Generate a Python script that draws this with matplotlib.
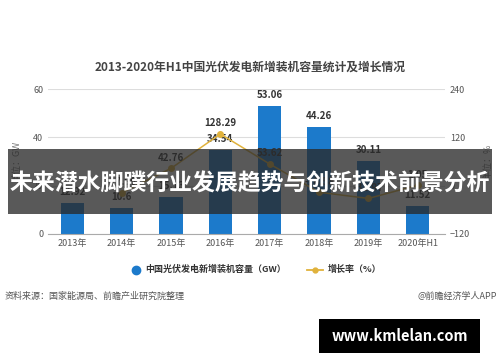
import numpy as np
import matplotlib.pyplot as plt
from matplotlib.patches import Rectangle

plt.rcParams['font.family'] = ['Noto Sans CJK SC', 'DejaVu Sans']

years = ['2013年', '2014年', '2015年', '2016年', '2017年', '2018年', '2019年', '2020年H1']
capacity = [12.92, 10.6, 15.13, 34.54, 53.06, 44.26, 30.11, 11.52]
growth_years = years[1:]
growth = [-17.96, 42.76, 128.29, 53.62, -16.58, -31.97, 1.05]

bar_color = '#1c7acb'
line_color = '#e0b23c'
txt = '#333333'

fig = plt.figure(figsize=(5, 3.62), dpi=100)
ax = fig.add_axes([0.096, 0.354, 0.794, 0.4])
x = np.arange(len(years))
ax.bar(x, capacity, width=0.47, color=bar_color, zorder=2)
for xi, v in zip(x, capacity):
    ax.text(xi, v + 2.5, f'{v:g}', ha='center', va='bottom',
            fontsize=7, fontweight='bold', color=txt, zorder=4)
ax.set_ylim(0, 60)
ax.set_xlim(-0.49, 7.55)
ax.set_yticks([0, 20, 40, 60])
ax.set_xticks(x)
ax.set_xticklabels(years, fontsize=6.5, color='#555555')
ax.tick_params(axis='y', labelsize=6.5, colors='#555555', length=0)
ax.tick_params(axis='x', length=0)
ax.grid(axis='y', color='#dddddd', linewidth=0.8, zorder=0)
for s in ['top', 'right', 'left']:
    ax.spines[s].set_visible(False)
ax.spines['bottom'].set_color('#aaaaaa')
ax.set_ylabel('单位：GW', fontsize=6.5, color='#777777', labelpad=8)

ax2 = ax.twinx()
gx = np.arange(1, len(years))
ax2.plot(gx, growth, color=line_color, linewidth=1.1, marker='o', markersize=4, zorder=3)
for xi, v in zip(gx, growth):
    ax2.text(xi, v + 14, f'{v:.2f}', ha='center', va='bottom',
             fontsize=7, fontweight='bold', color=txt, zorder=4)
ax2.set_ylim(-120, 240)
ax2.set_yticks([-120, 0, 120, 240])
ax2.tick_params(axis='y', labelsize=6.5, colors='#555555', length=0)
for s in ax2.spines.values():
    s.set_visible(False)
ax2.set_ylabel('单位：%', fontsize=6.5, color='#777777', labelpad=10)

fig.text(0.5, 0.815, '2013-2020年H1中国光伏发电新增装机容量统计及增长情况',
         ha='center', va='center', fontsize=8.5, fontweight='bold', color='#444444')

# legend
fig.lines.append(plt.Line2D([0.272], [0.255], transform=fig.transFigure, marker='o',
                            markersize=6, color=bar_color, linestyle='none'))
fig.text(0.29, 0.255, '中国光伏发电新增装机容量（GW）', fontsize=6.5, color='#333333',
         va='center', fontweight='bold')
fig.lines.append(plt.Line2D([0.613, 0.645], [0.255, 0.255], transform=fig.transFigure,
                            color=line_color, linewidth=1.3))
fig.lines.append(plt.Line2D([0.629], [0.255], transform=fig.transFigure, marker='o',
                            markersize=3.5, color=line_color))
fig.text(0.655, 0.255, '增长率（%）', fontsize=6.5, color='#333333', va='center',
         fontweight='bold')

fig.text(0.01, 0.182, '资料来源：国家能源局、前瞻产业研究院整理', fontsize=6.5,
         color='#555555', va='center')
fig.text(0.995, 0.182, '@前瞻经济学人APP', fontsize=6.5, color='#555555',
         va='center', ha='right')

# dark banner
fig.patches.append(Rectangle((0.016, 1 - 214 / 362), 0.968, 65 / 362, transform=fig.transFigure,
                             facecolor='#2a2a2a', alpha=0.78, zorder=10))
fig.text(0.5, 1 - 184 / 362, '未来潜水脚蹼行业发展趋势与创新技术前景分析', ha='center',
         va='center', fontsize=16.5, fontweight='bold', color='white', zorder=11)

# site tag
fig.patches.append(Rectangle((319 / 500, 1 - 353 / 362), 161 / 500, 34 / 362,
                             transform=fig.transFigure, facecolor='black', zorder=10))
fig.text(400 / 500, 1 - 336 / 362, 'www.kmlelan.com', ha='center', va='center',
         fontsize=10.5, fontweight='bold', color='white', zorder=11)

fig.savefig('out.png', dpi=100)
